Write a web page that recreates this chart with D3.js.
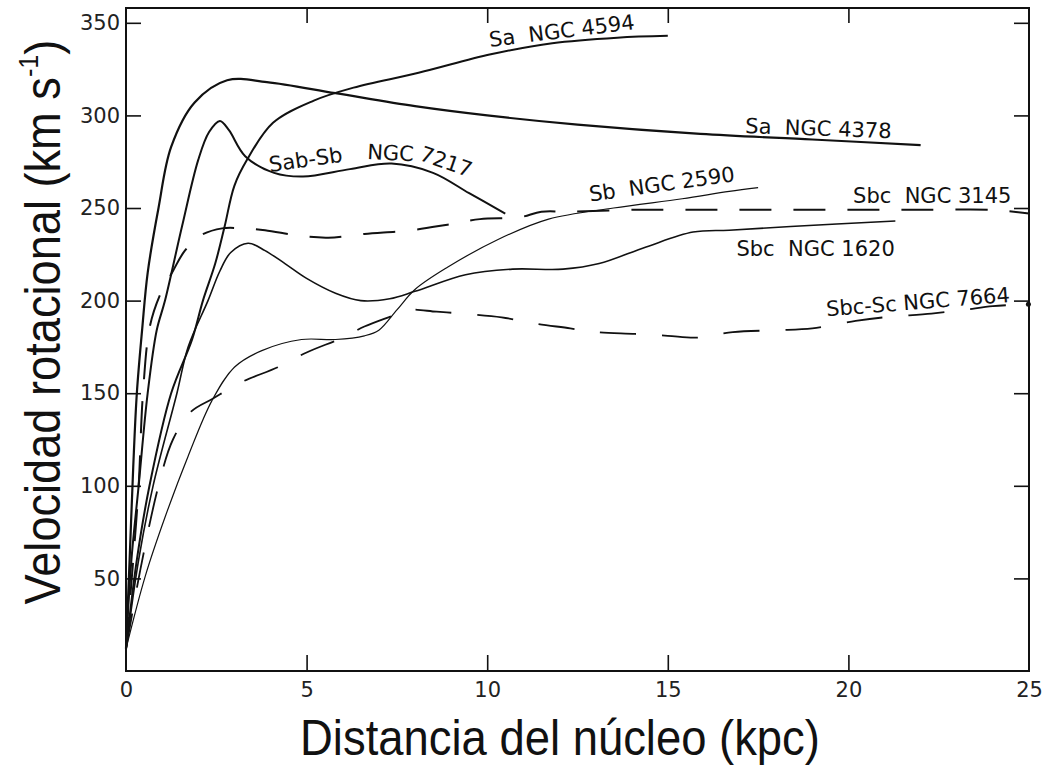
<!DOCTYPE html>
<html>
<head>
<meta charset="utf-8">
<script src="https://cdn.jsdelivr.net/npm/d3@7"></script>
<style>
  body { margin: 0; background: #fff; }
  svg { display: block; }
  .tick text { font-family: "DejaVu Sans", sans-serif; font-size: 21px; fill: #222; }
  .tick line { stroke: #111; stroke-width: 1.6; }
  .curve { fill: none; stroke: #111; }
  .lbl { font-family: "DejaVu Sans", sans-serif; font-size: 21px; fill: #111; white-space: pre; }
  .title { font-family: "Liberation Sans", Arial, sans-serif; font-size: 50px; fill: #111; }
</style>
</head>
<body>
<div id="chart"></div>
<script>
// rotation curves: [kpc, km/s]
var ngc4378 = [[0,12],[0.1,60],[0.2,110],[0.3,150],[0.45,185],[0.6,215],[0.9,250],[1.25,283],[1.9,307],
  [2.8,319],[3.9,318],[5.8,312],[8,305],[10,300],[12.5,295],[15.9,290],[19,287],[22,284]];
var ngc7217 = [[0,12],[0.15,60],[0.35,100],[0.6,150],[0.85,184],[1.08,200],[1.55,240],[2.0,276],[2.3,291],
  [2.6,297],[2.85,292],[3.3,278],[4.1,269],[4.9,267],[6.2,271],[7.35,274],[8.5,269],[9.5,258],[10.5,247]];
var ngc4594 = [[0,12],[0.3,60],[0.65,100],[1.25,150],[1.83,179],[2.13,200],[2.47,220],[2.73,240],[3.0,262],
  [3.35,276],[4.07,296],[5.2,308],[6.3,315],[8.1,323],[10.1,333],[11.8,339],[13.6,342],[15.0,343]];
var ngc1620 = [[0,12],[0.35,60],[0.75,100],[1.41,150],[1.72,175],[2.27,200],[2.6,216],[2.9,226],[3.38,231],
  [3.85,227],[4.4,220],[5.0,212],[5.8,204],[6.5,200],[7.3,201],[8.0,205],[9.4,214],[10.7,217],[12.1,217],
  [13.1,220],[14.4,229],[15.7,237],[16.7,238],[18.4,240],[21.3,243]];
var ngc2590 = [[0,12],[0.53,51],[1.08,83],[1.72,116],[2.38,146],[3.0,164],[3.76,173],[4.86,179],[5.8,179],
  [6.6,181],[7.0,184],[7.5,195],[8.0,206],[8.9,218],[10.3,233],[11.7,244],[13.5,250],[15.4,255],[16.7,259],[17.5,261]];
var ngc3145 = [[0,12],[0.2,60],[0.35,100],[0.47,150],[0.66,186],[0.94,203],[1.3,216],[1.63,227],[2.05,235],
  [2.66,239],[3.24,239],[3.85,238],[4.8,235],[5.6,234],[6.6,236],[7.9,238],[8.9,241],[9.8,244],[10.9,245],
  [11.5,248],[12.3,248],[14,249],[16,249],[18,249],[20,249],[22,249],[24,249],[25,247]];
var ngc7664 = [[0,12],[0.4,55],[0.9,100],[1.3,125],[1.8,140],[2.4,147],[3.2,156],[4.2,164],[5.0,172],[6.0,180],
  [6.6,186],[7.4,192],[7.8,195],[8.6,194],[9.3,193],[10.4,191],[11.2,188],[12.3,185],[13,183],[14.1,182],
  [15,181],[15.8,180],[16.8,183],[18,184],[19,185],[20.2,189],[21,191],[22.3,193],[23.2,195],[24,197],[24.9,198]];

var xTicks = [0, 5, 10, 15, 20, 25];
var yTicks = [50, 100, 150, 200, 250, 300, 350];

var svgWidth = 1043;
var svgHeight = 769;

var svg = d3.select("#chart")
  .append("svg")
  .attr("width", svgWidth)
  .attr("height", svgHeight);

var x = d3.scaleLinear().domain([0, 25]).range([126, 1029]);
var y = d3.scaleLinear().domain([0, 358]).range([671, 8]);

// frame
svg.append("rect")
  .attr("x", x(0)).attr("y", y(358))
  .attr("width", x(25) - x(0)).attr("height", y(0) - y(358))
  .attr("fill", "none").attr("stroke", "#111").attr("stroke-width", 2);

// axes, ticks pointing inwards
svg.append("g")
  .attr("transform", `translate(${x(0)},0)`)
  .call(d3.axisLeft(y).tickValues(yTicks).tickSize(-15).tickPadding(6).tickFormat(d3.format("d")))
  .call(g => g.select(".domain").remove());

svg.append("g")
  .attr("transform", `translate(0,${y(0)})`)
  .call(d3.axisBottom(x).tickValues(xTicks).tickSize(-16).tickPadding(11).tickFormat(d3.format("d")))
  .call(g => g.select(".domain").remove())
  .call(g => g.selectAll(".tick").filter(d => d === 0 || d === 25).select("line").remove());

svg.append("g")
  .attr("transform", `translate(0,${y(358)})`)
  .call(d3.axisTop(x).tickValues([5, 10, 15, 20]).tickSize(-15).tickFormat(""))
  .call(g => g.select(".domain").remove());

svg.append("g")
  .attr("transform", `translate(${x(25)},0)`)
  .call(d3.axisRight(y).tickValues(yTicks).tickSize(-15).tickFormat(""))
  .call(g => g.select(".domain").remove());

// curves
var line = d3.line()
  .x(d => x(d[0]))
  .y(d => y(d[1]))
  .curve(d3.curveCatmullRom.alpha(0.5));

var curves = [
  { data: ngc4378, w: 2.2, dash: null },
  { data: ngc7217, w: 2.0, dash: null },
  { data: ngc4594, w: 2.0, dash: null },
  { data: ngc1620, w: 1.6, dash: null },
  { data: ngc2590, w: 1.2, dash: null },
  { data: ngc3145, w: 2.0, dash: "32,22" },
  { data: ngc7664, w: 1.8, dash: "36,26" }
];

svg.selectAll("path.curve")
  .data(curves)
  .enter()
  .append("path")
  .attr("class", "curve")
  .attr("d", d => line(d.data))
  .attr("stroke-width", d => d.w)
  .attr("stroke-dasharray", d => d.dash);

// small dot at the end of NGC 7664
var last = ngc7664[ngc7664.length - 1];
svg.append("circle")
  .attr("cx", x(last[0]) + 3).attr("cy", y(last[1]))
  .attr("r", 2.5).attr("fill", "#111");

// curve labels (anchor in data units, rotation in degrees)
var labels = [
  { t: "Sa  NGC 4594", at: [10.08, 337], rot: -7 },
  { t: "Sa  NGC 4378", at: [17.14, 290.5], rot: 2 },
  { t: "Sab-Sb", at: [3.99, 269.5], rot: -8 },
  { t: "NGC", at: [6.67, 276.5], rot: 3 },
  { t: "7217", at: [8.1, 276], rot: 19 },
  { t: "Sb  NGC 2590", at: [12.85, 253.5], rot: -8 },
  { t: "Sbc  NGC 3145", at: [20.13, 252.5], rot: 0 },
  { t: "Sbc  NGC 1620", at: [16.9, 224], rot: 0 },
  { t: "Sbc-Sc NGC 7664", at: [19.4, 191.5], rot: -4.5 }
];

svg.selectAll("text.lbl")
  .data(labels)
  .enter()
  .append("text")
  .attr("class", "lbl")
  .attr("transform", d => `translate(${x(d.at[0])},${y(d.at[1])}) rotate(${d.rot})`)
  .text(d => d.t);

// axis titles
var xTitle = svg.append("text")
  .attr("class", "title")
  .attr("text-anchor", "middle")
  .text("Distancia del núcleo (kpc)");
var xw = xTitle.node().getComputedTextLength();
xTitle.attr("transform", `translate(560,755) scale(${520 / xw},1)`);

var yTitle = svg.append("text")
  .attr("class", "title")
  .attr("text-anchor", "middle");
yTitle.append("tspan").text("Velocidad rotacional (km s");
yTitle.append("tspan").attr("font-size", "28px").attr("dy", "-22").text("-1");
yTitle.append("tspan").attr("dy", "22").text(")");
var yw = yTitle.node().getComputedTextLength();
yTitle.attr("transform", `translate(60,322) rotate(-90) scale(${565 / yw},1)`);
</script>
</body>
</html>
